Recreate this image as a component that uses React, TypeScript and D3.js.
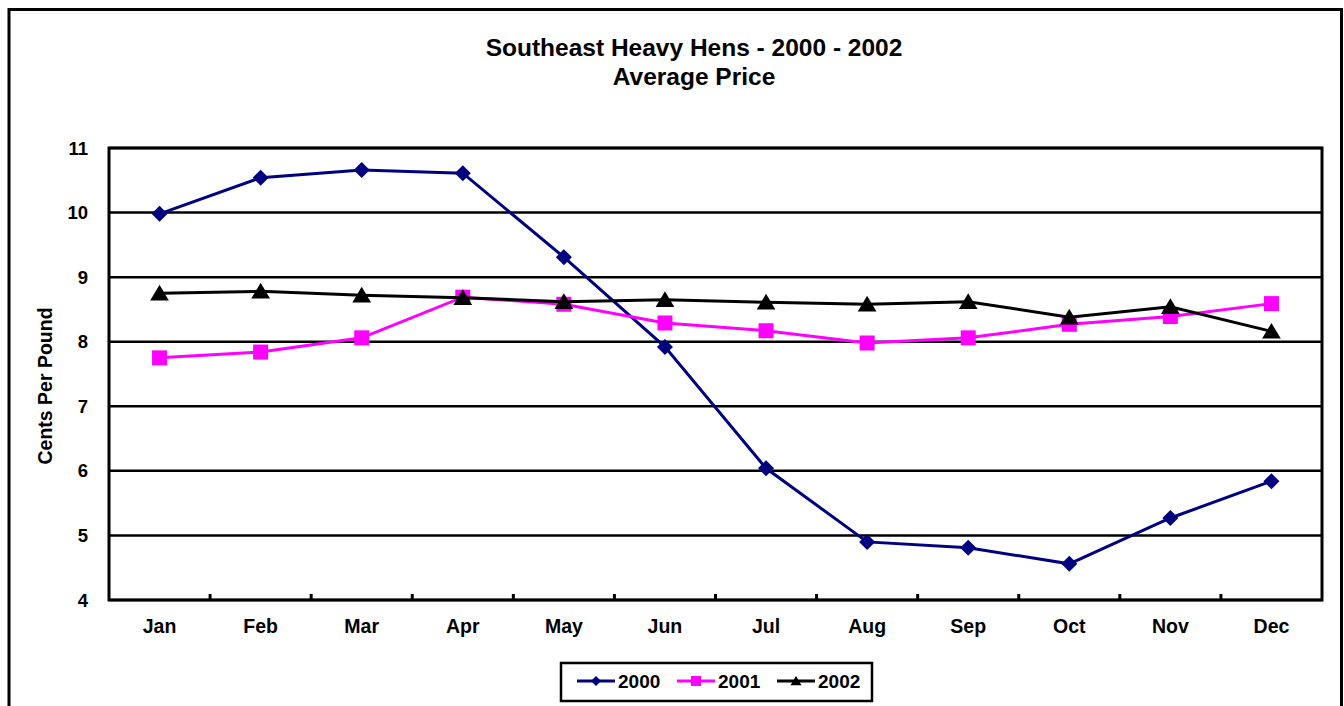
import React, { useEffect, useRef } from "react";
import * as d3 from "d3";

const months = ["Jan", "Feb", "Mar", "Apr", "May", "Jun", "Jul", "Aug", "Sep", "Oct", "Nov", "Dec"];
const yTicks = [4, 5, 6, 7, 8, 9, 10, 11];
const series2000 = [9.98, 10.54, 10.66, 10.61, 9.31, 7.92, 6.04, 4.9, 4.81, 4.56, 5.27, 5.84];
const series2001 = [7.75, 7.84, 8.06, 8.69, 8.58, 8.29, 8.17, 7.98, 8.06, 8.27, 8.39, 8.59];
const series2002 = [8.75, 8.78, 8.72, 8.68, 8.62, 8.65, 8.61, 8.58, 8.62, 8.38, 8.54, 8.16];
const seriesNames = ["2000", "2001", "2002"];

const W = 1344;
const H = 706;
const plot = { left: 109, right: 1322, top: 148, bottom: 600 };
const FONT = "Liberation Sans, Arial, sans-serif";

export default function App() {
  const ref = useRef<SVGSVGElement | null>(null);

  useEffect(() => {
    const svg = d3.select(ref.current);
    svg.selectAll("*").remove();

    const x = d3.scaleBand().domain(months).range([plot.left, plot.right]).padding(0);
    const y = d3.scaleLinear().domain([4, 11]).range([plot.bottom, plot.top]);
    const cx = (m: string) => (x(m) as number) + x.bandwidth() / 2;

    // outer frame
    svg.append("rect").attr("x", 0).attr("y", 0).attr("width", W).attr("height", H).attr("fill", "#fff");
    svg.append("rect")
      .attr("x", 9).attr("y", 9.5).attr("width", 1332.5).attr("height", 720)
      .attr("fill", "none").attr("stroke", "#000").attr("stroke-width", 3);

    // title
    const t = svg.append("text").attr("text-anchor", "middle").attr("font-family", FONT)
      .attr("font-weight", "bold").attr("font-size", 24.5).attr("fill", "#000");
    t.append("tspan").attr("x", 694).attr("y", 56).text("Southeast Heavy Hens - 2000 - 2002");
    t.append("tspan").attr("x", 694).attr("y", 85).text("Average Price");

    // gridlines
    svg.append("g").selectAll("line").data(yTicks).join("line")
      .attr("x1", plot.left).attr("x2", plot.right)
      .attr("y1", (d) => y(d)).attr("y2", (d) => y(d))
      .attr("stroke", "#000").attr("stroke-width", 2.5);

    // plot border
    svg.append("rect")
      .attr("x", plot.left).attr("y", plot.top)
      .attr("width", plot.right - plot.left).attr("height", plot.bottom - plot.top)
      .attr("fill", "none").attr("stroke", "#000").attr("stroke-width", 3);

    // x ticks at band boundaries
    const bounds = months.slice(1).map((m) => x(m) as number);
    svg.append("g").selectAll("line").data(bounds).join("line")
      .attr("x1", (d) => d).attr("x2", (d) => d)
      .attr("y1", plot.bottom).attr("y2", plot.bottom - 6)
      .attr("stroke", "#000").attr("stroke-width", 3);

    // y tick labels
    svg.append("g").selectAll("text").data(yTicks).join("text")
      .attr("x", 88).attr("y", (d) => y(d) + 6.5)
      .attr("text-anchor", "end").attr("font-family", FONT).attr("font-weight", "bold")
      .attr("font-size", 18.5).text((d) => String(d));

    // x tick labels
    svg.append("g").selectAll("text").data(months).join("text")
      .attr("x", (d) => cx(d)).attr("y", 633)
      .attr("text-anchor", "middle").attr("font-family", FONT).attr("font-weight", "bold")
      .attr("font-size", 19.5).text((d) => d);

    // y axis title
    svg.append("text")
      .attr("transform", "translate(52,386) rotate(-90)")
      .attr("text-anchor", "middle").attr("font-family", FONT).attr("font-weight", "bold")
      .attr("font-size", 19.5).text("Cents Per Pound");

    const line = d3.line<number>().x((_, i) => cx(months[i])).y((d) => y(d));

    const diamond = (s: number) => `M0,${-s}L${s},0L0,${s}L${-s},0Z`;
    const square = (s: number) => `M${-s},${-s}L${s},${-s}L${s},${s}L${-s},${s}Z`;
    const tri = (s: number) => `M0,${-s}L${s * 1.1},${s * 0.85}L${-s * 1.1},${s * 0.85}Z`;

    const defs = [
      { data: series2000, color: "#000080", marker: diamond, size: 8 },
      { data: series2001, color: "#FF00FF", marker: square, size: 7.5 },
      { data: series2002, color: "#000000", marker: tri, size: 8.5 },
    ];

    defs.forEach((s) => {
      svg.append("path").datum(s.data).attr("d", line)
        .attr("fill", "none").attr("stroke", s.color).attr("stroke-width", 3);
      svg.append("g").selectAll("path").data(s.data).join("path")
        .attr("transform", (d, i) => `translate(${cx(months[i])},${y(d)})`)
        .attr("d", s.marker(s.size)).attr("fill", s.color);
    });

    // legend
    const lg = svg.append("g");
    lg.append("rect").attr("x", 561).attr("y", 663).attr("width", 311).attr("height", 38)
      .attr("fill", "#fff").attr("stroke", "#000").attr("stroke-width", 2.5);
    const legendSizes = [5, 5, 5];
    defs.forEach((s, i) => {
      const x0 = 577 + i * 100;
      lg.append("line").attr("x1", x0).attr("x2", x0 + 38).attr("y1", 681).attr("y2", 681)
        .attr("stroke", s.color).attr("stroke-width", 3);
      lg.append("path").attr("transform", `translate(${x0 + 19},681)`)
        .attr("d", s.marker(legendSizes[i])).attr("fill", s.color);
      lg.append("text").attr("x", x0 + 41).attr("y", 688).attr("font-family", FONT)
        .attr("font-weight", "bold").attr("font-size", 19).text(seriesNames[i]);
    });
  }, []);

  return (
    <svg ref={ref} width={W} height={H} style={{ position: "absolute", left: 0, top: 0 }} />
  );
}
